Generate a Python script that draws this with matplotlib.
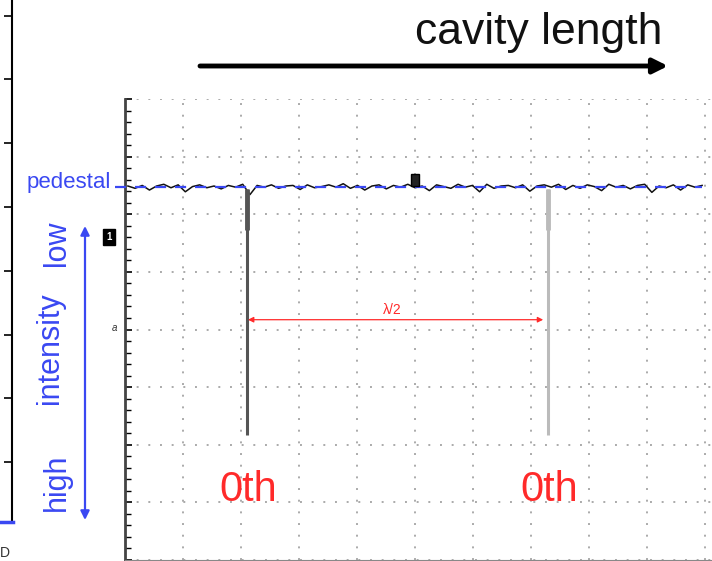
import numpy as np
import matplotlib
matplotlib.use("Agg")
import matplotlib.pyplot as plt

plt.rcParams['font.family'] = ['Liberation Sans', 'DejaVu Sans']

# scope trace, in screen divisions (x: 0..10, y: 0..8)
pedestal = 6.48
noise = [0.01, -0.03, 0.02, -0.06, 0.01, 0.04, -0.02, 0.03, -0.09, 0.00,
         0.03, -0.02, 0.01, -0.04, 0.02, -0.01, 0.04, -0.14, 0.02, -0.01,
         0.03, -0.03, 0.01, 0.02, -0.05, 0.03, -0.02, 0.00, 0.03, -0.01,
         0.05, -0.03, 0.02, -0.06, 0.01, 0.03, -0.04, 0.02, -0.01, 0.04,
         -0.02, 0.01, -0.07, 0.03, 0.00, -0.03, 0.04, -0.01, 0.02, -0.09,
         0.04, -0.03, 0.01, 0.02, -0.02, 0.03, -0.08, 0.01, 0.03, -0.01,
         0.04, -0.05, 0.02, -0.03, 0.03, 0.00, -0.07, 0.04, -0.01, 0.02,
         -0.04, 0.02, 0.04, -0.10, 0.01, -0.02, 0.03, -0.06, 0.03, -0.01, 0.02]
dip_x = [2.10, 7.29]
dip_bottom = [2.17, 2.17]
dip_colors = ['#555555', '#bbbbbb']
order_labels = ['0th', '0th']
fsr_label = 'λ/2'

# neighbouring panel axis on the far left (pixel rows)
left_ticks = [16, 79, 143, 207, 271, 335, 398, 462]

blue = '#3a48f2'
red = '#ff2a2a'

fig = plt.figure(figsize=(7.12, 5.61), dpi=100)

# left-over axis of the neighbouring panel
ax0 = fig.add_axes([12 / 712, 39 / 561, 0.02, 522 / 561])
ax0.set_ylim(522, 0)
ax0.set_xlim(0, 1)
for s in ['top', 'right', 'bottom']:
    ax0.spines[s].set_visible(False)
ax0.spines['left'].set_linewidth(1.5)
ax0.set_xticks([])
ax0.set_yticks(left_ticks)
ax0.set_yticklabels([])
ax0.tick_params(axis='y', direction='out', length=6, width=1.2)
ax0.patch.set_alpha(0)

# oscilloscope screen
ax = fig.add_axes([125 / 712, 1 / 561, 587 / 712, 461 / 561])
ax.set_xlim(0, 587 / 58)
ax.set_ylim(0, 8)
ax.set_xticks(range(11))
ax.set_yticks(range(9))
ax.set_yticks(np.arange(0, 8.01, 0.2), minor=True)
ax.set_xticklabels([])
ax.set_yticklabels([])
ax.tick_params(axis='x', length=0)
ax.tick_params(axis='y', which='major', direction='in', length=5, width=1.2)
ax.tick_params(axis='y', which='minor', direction='in', length=4, width=1.0)
ax.grid(True, color='#aaaaaa', linestyle=(0, (1, 5)), linewidth=1.4)
for s in ['top', 'right']:
    ax.spines[s].set_visible(False)
ax.spines['left'].set_linewidth(2)
ax.spines['left'].set_color('#444444')
ax.spines['bottom'].set_color('#888888')

tx = np.linspace(0.05, 9.95, len(noise))
ax.plot(tx, pedestal + np.array(noise), color='#111111', lw=1.1, zorder=3)
ax.plot([-0.17, 9.95], [pedestal, pedestal], color=blue, lw=1.6,
        linestyle=(0, (5, 4)), zorder=4, clip_on=False)
for x, yb, c in zip(dip_x, dip_bottom, dip_colors):
    ax.vlines(x, yb, pedestal - 0.05, color=c, lw=2.2, zorder=3)
    ax.vlines(x, pedestal - 0.75, pedestal - 0.05, color=c, lw=3.5, zorder=3)

# lambda/2 spacing arrow
y_fsr = 4.17
ax.annotate('', xy=(dip_x[1] - 0.08, y_fsr), xytext=(dip_x[0] + 0.02, y_fsr),
            arrowprops=dict(arrowstyle='<|-|>', color=red, lw=0.9,
                            mutation_scale=8, shrinkA=0, shrinkB=0))
ax.text(np.mean(dip_x) - 0.08, y_fsr + 0.05, fsr_label, color=red,
        fontsize=10, ha='center', va='bottom')

for x, lab in zip(dip_x, order_labels):
    ax.text(x + 0.03, 1.22, lab, color=red, fontsize=30, ha='center',
            va='center')

# annotation overlay in pixel coordinates
ov = fig.add_axes([0, 0, 1, 1])
ov.set_xlim(0, 712)
ov.set_ylim(561, 0)
ov.axis('off')
ov.patch.set_alpha(0)

ov.text(662, 32, 'cavity length', fontsize=32, ha='right', va='center',
        color='#111111')
ov.annotate('', xy=(668, 66), xytext=(200, 66),
            arrowprops=dict(arrowstyle='-|>', color='black', lw=3.5,
                            mutation_scale=22, shrinkA=0, shrinkB=0))

ov.text(111, 182, 'pedestal', color=blue, fontsize=16, ha='right',
        va='center')

ov.annotate('', xy=(85, 226), xytext=(85, 520),
            arrowprops=dict(arrowstyle='<|-|>', color=blue, lw=1.6,
                            mutation_scale=13, shrinkA=0, shrinkB=0))
ov.text(57, 482, 'high', color=blue, fontsize=22, rotation=90,
        ha='center', va='center')
ov.text(50, 348, 'intensity', color=blue, fontsize=22, rotation=90,
        ha='center', va='center')
ov.text(57, 243, 'low', color=blue, fontsize=22, rotation=90,
        ha='center', va='center')

ov.plot([0, 13], [522, 522], color=blue, lw=2.5)

# small scope markers
ov.text(109, 237, '1', color='white', fontsize=7, fontweight='bold',
        ha='center', va='center',
        bbox=dict(boxstyle='square,pad=0.3', fc='black', ec='black'))
ov.text(114, 328, 'a', color='#333333', fontsize=7, ha='center',
        va='center', style='italic')
ov.text(415, 180, ' ', fontsize=6, ha='center', va='center',
        bbox=dict(boxstyle='square,pad=0.3', fc='#222222', ec='black'))
ov.text(0, 560, 'D', color='#333333', fontsize=10, ha='left', va='bottom')

fig.savefig('out.png', dpi=100)
